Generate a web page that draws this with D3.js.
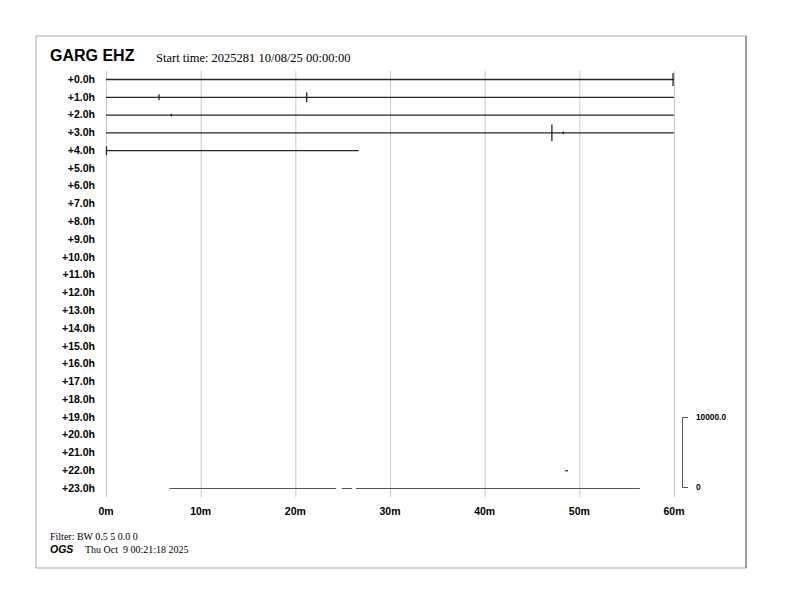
<!DOCTYPE html>
<html>
<head>
<meta charset="utf-8">
<script src="https://cdn.jsdelivr.net/npm/d3@7"></script>
<style>
  body { margin: 0; background: #fff; }
  svg { display: block; }
  .sans { font-family: "Liberation Sans", Arial, sans-serif; font-weight: bold; }
  .serif { font-family: "Liberation Serif", "Times New Roman", serif; }
</style>
</head>
<body>
<svg id="chart" width="792" height="612"></svg>
<script>
// helicorder rows: one per hour, offsets in hours
var hours = d3.range(0, 24);
var hourLabels = hours.map(function(h) { return '+' + h + '.0h'; });
var minuteTicks = [0, 10, 20, 30, 40, 50, 60];

// recorded stretches of data: [row, start minute, end minute]
var segments = [
  [0, 0, 60], [1, 0, 60], [2, 0, 60], [3, 0, 60],
  [4, 0, 26.7],
  [22, 48.5, 48.8],
  [23, 6.7, 24.3], [23, 24.9, 26.0], [23, 26.4, 56.4]
];

// visible spikes: [row, minute, half amplitude in counts]
var events = [
  [0, 59.9, 930],
  [1, 5.6, 430], [1, 21.2, 710],
  [2, 6.9, 200],
  [3, 47.1, 1210], [3, 48.3, 200],
  [4, 0.05, 640]
];

var scaleMax = 10000;

var svg = d3.select('#chart');

// frame
svg.append('rect')
  .attr('x', 36).attr('y', 36).attr('width', 710).attr('height', 532)
  .attr('fill', 'none').attr('stroke', '#aaa').attr('stroke-width', 1);
svg.append('line')
  .attr('x1', 746).attr('x2', 746).attr('y1', 36).attr('y2', 568)
  .attr('stroke', '#666');

var x = d3.scaleLinear().domain([0, 60]).range([106, 674]);
var y = d3.scaleLinear().domain([0, 23]).range([79, 488]);
var amp = d3.scaleLinear().domain([0, scaleMax]).range([0, 70]);

// title
svg.append('text').attr('class', 'sans')
  .attr('x', 50).attr('y', 61).attr('font-size', 16)
  .text('GARG EHZ');
svg.append('text').attr('class', 'serif')
  .attr('x', 156).attr('y', 62).attr('font-size', 12.5)
  .text('Start time: 2025281 10/08/25 00:00:00');

// vertical grid
svg.append('g').selectAll('line')
  .data(minuteTicks)
  .join('line')
  .attr('x1', function(d) { return x(d) + 0.5; })
  .attr('x2', function(d) { return x(d) + 0.5; })
  .attr('y1', 71).attr('y2', 497)
  .attr('stroke', '#c8c8c8').attr('stroke-width', 1);

// x labels
svg.append('g').selectAll('text')
  .data(minuteTicks)
  .join('text')
  .attr('class', 'sans')
  .attr('x', function(d) { return x(d); })
  .attr('y', 515)
  .attr('font-size', 10.5)
  .attr('text-anchor', 'middle')
  .text(function(d) { return d + 'm'; });

// row labels
svg.append('g').selectAll('text')
  .data(hours)
  .join('text')
  .attr('class', 'sans')
  .attr('x', 95)
  .attr('y', function(d) { return y(d) + 3.8; })
  .attr('font-size', 10.5)
  .attr('text-anchor', 'end')
  .text(function(d, i) { return hourLabels[i]; });

// traces
function tracePath(s) {
  var row = s[0], t0 = s[1], t1 = s[2];
  var cy = y(row) + 0.5;
  var ev = events.filter(function(e) { return e[0] === row && e[1] >= t0 && e[1] <= t1; })
    .sort(function(a, b) { return a[1] - b[1]; });
  var p = d3.path();
  p.moveTo(x(t0), cy);
  ev.forEach(function(e) {
    var ex = x(e[1]), h = amp(e[2]);
    p.lineTo(ex, cy);
    p.lineTo(ex, cy - h);
    p.lineTo(ex, cy + h);
    p.lineTo(ex, cy);
  });
  p.lineTo(x(t1), cy);
  return p.toString();
}

svg.append('g').selectAll('path')
  .data(segments)
  .join('path')
  .attr('d', tracePath)
  .attr('fill', 'none')
  .attr('stroke', function(d) { return d[0] === 23 ? '#555' : '#262626'; })
  .attr('stroke-width', function(d) { return d[0] === 23 ? 1 : 1.3; });

// amplitude scale bar
var sb = svg.append('g');
var sbTop = 487 - amp(scaleMax);
sb.append('path')
  .attr('d', 'M688,' + (sbTop + 0.5) + 'H682.5V' + 487.5 + 'H688')
  .attr('fill', 'none').attr('stroke', '#555').attr('stroke-width', 1);
sb.append('text').attr('class', 'sans')
  .attr('x', 696).attr('y', sbTop + 3).attr('font-size', 8.3)
  .text(scaleMax.toFixed(1));
sb.append('text').attr('class', 'sans')
  .attr('x', 696).attr('y', 490).attr('font-size', 8.3)
  .text('0');

// footer
svg.append('text').attr('class', 'serif')
  .attr('x', 50).attr('y', 540).attr('font-size', 10)
  .text('Filter: BW 0.5 5 0.0 0');
svg.append('text').attr('class', 'sans')
  .attr('x', 50).attr('y', 553).attr('font-size', 10.5)
  .attr('font-style', 'italic')
  .text('OGS');
svg.append('text').attr('class', 'serif')
  .attr('x', 85).attr('y', 553).attr('font-size', 10)
  .attr('xml:space', 'preserve')
  .style('white-space', 'pre')
  .text('Thu Oct  9 00:21:18 2025');
</script>
</body>
</html>
